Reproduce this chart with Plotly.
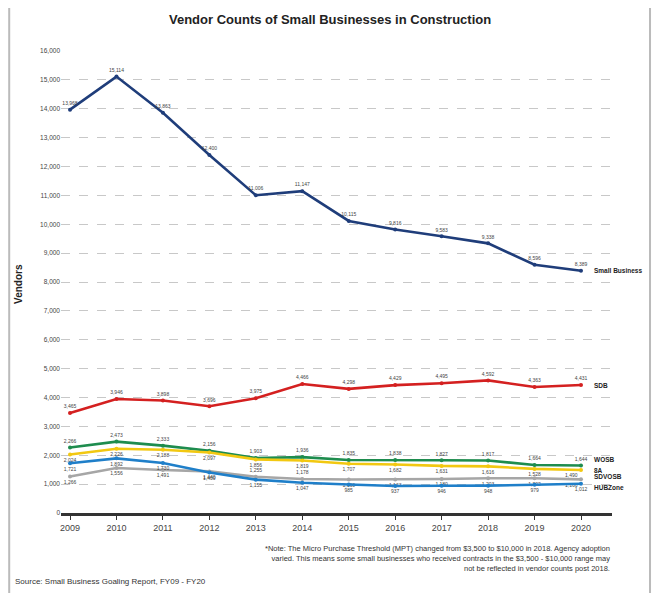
import plotly.graph_objects as go

years = [2009, 2010, 2011, 2012, 2013, 2014, 2015, 2016, 2017, 2018, 2019, 2020]

small_business = [13968, 15114, 13863, 12400, 11006, 11147, 10115, 9816, 9583, 9338, 8596, 8389]
sdb = [3465, 3946, 3898, 3696, 3975, 4466, 4298, 4429, 4495, 4592, 4363, 4431]
wosb = [2266, 2473, 2333, 2156, 1903, 1936, 1835, 1838, 1827, 1817, 1664, 1644]
sa = [2024, 2226, 2188, 2097, 1856, 1819, 1707, 1682, 1631, 1616, 1528, 1490]
sdvosb = [1266, 1556, 1491, 1440, 1255, 1178, 1160, 1163, 1180, 1203, 1202, 1166]
hubzone = [1721, 1892, 1730, 1400, 1155, 1047, 985, 937, 946, 948, 979, 1012]

n = len(years)
sa_pos = ["bottom center"] * (n - 1) + ["bottom left"]
sdv_pos = ["bottom center"] * n
sdv_pos[4] = "top center"
sdv_pos[5] = "top center"
sdv_pos[-1] = "bottom left"

series = [
    ("Small Business", small_business, "#1f3d7a", "top center"),
    ("SDB", sdb, "#d42020", "top center"),
    ("WOSB", wosb, "#1e8c4e", "top center"),
    ("8A", sa, "#f2c811", sa_pos),
    ("SDVOSB", sdvosb, "#a6a6a6", sdv_pos),
    ("HUBZone", hubzone, "#1f7fc9", "bottom center"),
]
end_label_shift = {"Small Business": 0, "SDB": 0, "WOSB": 6, "8A": -1, "SDVOSB": 3, "HUBZone": -4}

fig = go.Figure()
for name, vals, color, pos in series:
    fig.add_trace(go.Scatter(
        x=years, y=vals, name=name, mode="lines+markers+text",
        line=dict(color=color, width=2.6),
        marker=dict(color=color, size=4),
        text=[f"{v:,}" for v in vals], textposition=pos,
        textfont=dict(size=5, color="#444444", family="Arial"),
        cliponaxis=False, showlegend=False,
    ))
    fig.add_annotation(x=years[-1], y=vals[-1], text=f"<b>{name}</b>", xanchor="left",
                       xshift=11, yshift=end_label_shift[name], showarrow=False,
                       font=dict(size=6.5, color="#222222", family="Arial"))

fig.add_annotation(xref="paper", yref="paper", x=0.489, y=1.0, yshift=32, showarrow=False,
                   text="<b>Vendor Counts of Small Businesses in Construction</b>",
                   font=dict(size=13, color="#222222", family="Arial"), xanchor="center", yanchor="middle")
fig.add_annotation(xref="paper", yref="paper", x=-0.076, y=0.496, showarrow=False, textangle=-90,
                   text="<b>Vendors</b>", font=dict(size=10, color="#222222", family="Arial"),
                   xanchor="center", yanchor="middle")
fig.add_annotation(xref="paper", yref="paper", x=1.0, y=0, yshift=-29, xanchor="right", yanchor="top",
                   align="right", showarrow=False,
                   text="*Note: The Micro Purchase Threshold (MPT) changed from $3,500 to $10,000 in 2018. Agency adoption<br>"
                        "varied. This means some small businesses who received contracts in the $3,500 - $10,000 range may<br>"
                        "not be reflected in vendor counts post 2018.",
                   font=dict(size=7.5, color="#333333", family="Arial"))
fig.add_annotation(xref="paper", yref="paper", x=-0.087, y=0, yshift=-68, xanchor="left", yanchor="middle",
                   showarrow=False, text="Source: Small Business Goaling Report, FY09 - FY20",
                   font=dict(size=8, color="#333333", family="Arial"))

fig.add_shape(type="rect", xref="paper", yref="paper", x0=-0.094, x1=1.069, y0=-0.19, y1=1.097,
              line=dict(color="#bbbbbb", width=2), layer="below")

fig.update_layout(
    width=660, height=593,
    margin=dict(l=53, r=56, t=43, b=88, autoexpand=False),
    paper_bgcolor="white", plot_bgcolor="white",
    font=dict(family="Arial"),
    xaxis=dict(range=[2008.806, 2020.667], tickmode="array", tickvals=years,
               ticktext=[str(y) for y in years], showgrid=False, automargin=False,
               showline=True, linecolor="#333333", linewidth=2.5,
               ticks="outside", ticklen=4, tickcolor="#333333",
               tickfont=dict(size=9, color="#444444"), zeroline=False),
    yaxis=dict(range=[0, 16000], tickmode="array", tickvals=list(range(0, 16001, 1000)),
               ticktext=[f"{v:,}" for v in range(0, 16001, 1000)], automargin=False,
               showgrid=True, gridcolor="#c8c8c8", griddash="dash", gridwidth=1,
               zeroline=False, showline=False, ticks="",
               tickfont=dict(size=6.5, color="#444444")),
)

fig.write_html("out.html")
